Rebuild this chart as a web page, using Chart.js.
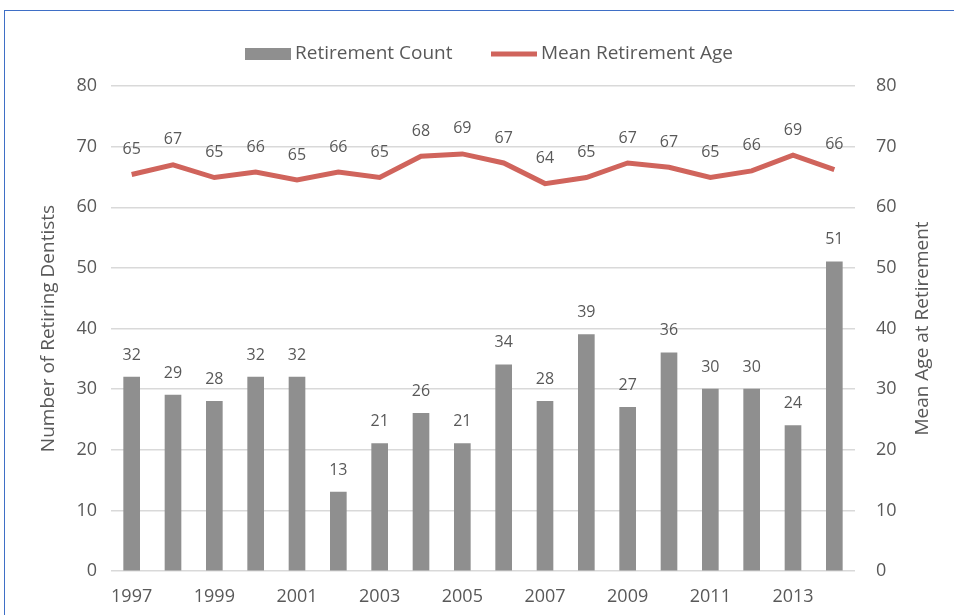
<!DOCTYPE html>
<html lang="en">
<head>
  <meta charset="utf-8" />
  <title>Retiring dentists and mean retirement age</title>
  <script src="https://cdn.jsdelivr.net/npm/chart.js@4.4.1/dist/chart.umd.min.js"></script>
  <style>
    html, body { margin: 0; padding: 0; background: #fff; overflow: hidden; }
    .wrap { position: relative; width: 954px; height: 615px; }
    .frame {
      position: absolute; left: 4px; top: 10px; width: 1000px; height: 700px;
      border-left: 1.5px solid #3f6fc6; border-top: 1.5px solid #3f6fc6;
      pointer-events: none;
    }
  </style>
</head>
<body>
  <div class="wrap">
    <canvas id="chart"></canvas>
    <div class="frame"></div>
  </div>
  <script>
    const years = ['1997', '1998', '1999', '2000', '2001', '2002', '2003', '2004', '2005',
      '2006', '2007', '2008', '2009', '2010', '2011', '2012', '2013', '2014'];
    const retirementCount = [32, 29, 28, 32, 32, 13, 21, 26, 21, 34, 28, 39, 27, 36, 30, 30, 24, 51];
    const meanAge = [65.4, 67.0, 64.9, 65.8, 64.5, 65.8, 64.9, 68.4, 68.8, 67.3,
      63.9, 64.9, 67.3, 66.6, 64.9, 66.0, 68.6, 66.2];
    const axisTicks = [0, 10, 20, 30, 40, 50, 60, 70, 80];

    const FONT = "'Open Sans', sans-serif";
    const TEXT = '#595959';
    const BAR = '#8f8f8f';
    const LINE = '#d0645c';

    // value labels above every bar / line point (no datalabels plugin offline)
    const valueLabels = {
      id: 'valueLabels',
      afterDatasetsDraw(chart) {
        const ctx = chart.ctx;
        ctx.save();
        ctx.font = '16px ' + FONT;
        ctx.fillStyle = TEXT;
        ctx.textAlign = 'center';
        ctx.textBaseline = 'middle';
        chart.data.datasets.forEach((ds, di) => {
          const meta = chart.getDatasetMeta(di);
          const off = ds.type === 'line' ? 25 : 22;
          meta.data.forEach((el, i) => {
            ctx.fillText(String(Math.round(ds.data[i])), el.x, el.y - off);
          });
        });
        ctx.restore();
      },
    };

    // top legend + right axis title (source reads bottom-to-top on both sides)
    const extras = {
      id: 'extras',
      afterDraw(chart) {
        const ctx = chart.ctx;
        ctx.save();
        ctx.font = '19px ' + FONT;
        ctx.textBaseline = 'middle';
        const y = 54;
        ctx.fillStyle = BAR;
        ctx.fillRect(245, y - 6, 46, 12);
        ctx.fillStyle = TEXT;
        ctx.fillText('Retirement Count', 295, y);
        ctx.fillStyle = LINE;
        ctx.fillRect(491, y - 2.5, 46, 5);
        ctx.fillStyle = TEXT;
        ctx.fillText('Mean Retirement Age', 541, y);

        const area = chart.chartArea;
        ctx.translate(923, (area.top + area.bottom) / 2);
        ctx.rotate(-Math.PI / 2);
        ctx.textAlign = 'center';
        ctx.fillText('Mean Age at Retirement', 0, 0);
        ctx.restore();
      },
    };

    const tickFont = { family: FONT, size: 18 };
    const titleFont = { family: FONT, size: 19 };

    new Chart(document.getElementById('chart'), {
      data: {
        labels: years,
        datasets: [
          {
            type: 'line',
            label: 'Mean Retirement Age',
            data: meanAge,
            yAxisID: 'y1',
            borderColor: LINE,
            borderWidth: 5,
            pointRadius: 0,
            tension: 0,
            order: 0,
          },
          {
            type: 'bar',
            label: 'Retirement Count',
            data: retirementCount,
            yAxisID: 'y',
            backgroundColor: BAR,
            barThickness: 16,
            order: 1,
          },
        ],
      },
      options: {
        responsive: true,
        maintainAspectRatio: false,
        animation: false,
        layout: { padding: { top: 86, left: 0, right: 0, bottom: 0 } },
        plugins: {
          legend: { display: false },
          tooltip: { enabled: false },
        },
        scales: {
          x: {
            offset: true,
            grid: { display: false, drawTicks: false },
            border: { display: false },
            ticks: {
              color: TEXT, font: tickFont, padding: 15, autoSkip: false, maxRotation: 0,
              callback: (v, i) => (i % 2 === 0 ? years[i] : ''),
            },
            afterFit: (s) => { s.height = 44; },
          },
          y: {
            position: 'left',
            min: 0, max: 80,
            afterBuildTicks: (s) => { s.ticks = axisTicks.map((v) => ({ value: v })); },
            grid: { color: '#d9d9d9', lineWidth: 1.5, drawTicks: false },
            border: { display: false },
            ticks: { color: TEXT, font: tickFont, padding: 14 },
            title: { display: true, text: 'Number of Retiring Dentists', color: TEXT, font: titleFont, padding: { top: 37, bottom: 0 } },
            afterFit: (s) => { s.width = 111; },
          },
          y1: {
            position: 'right',
            min: 0, max: 80,
            afterBuildTicks: (s) => { s.ticks = axisTicks.map((v) => ({ value: v })); },
            grid: { drawOnChartArea: false, drawTicks: false },
            border: { display: false },
            ticks: { color: TEXT, font: tickFont, padding: 21 },
            title: { display: false },
            afterFit: (s) => { s.width = 99; },
          },
        },
      },
      plugins: [valueLabels, extras],
    });
  </script>
</body>
</html>
